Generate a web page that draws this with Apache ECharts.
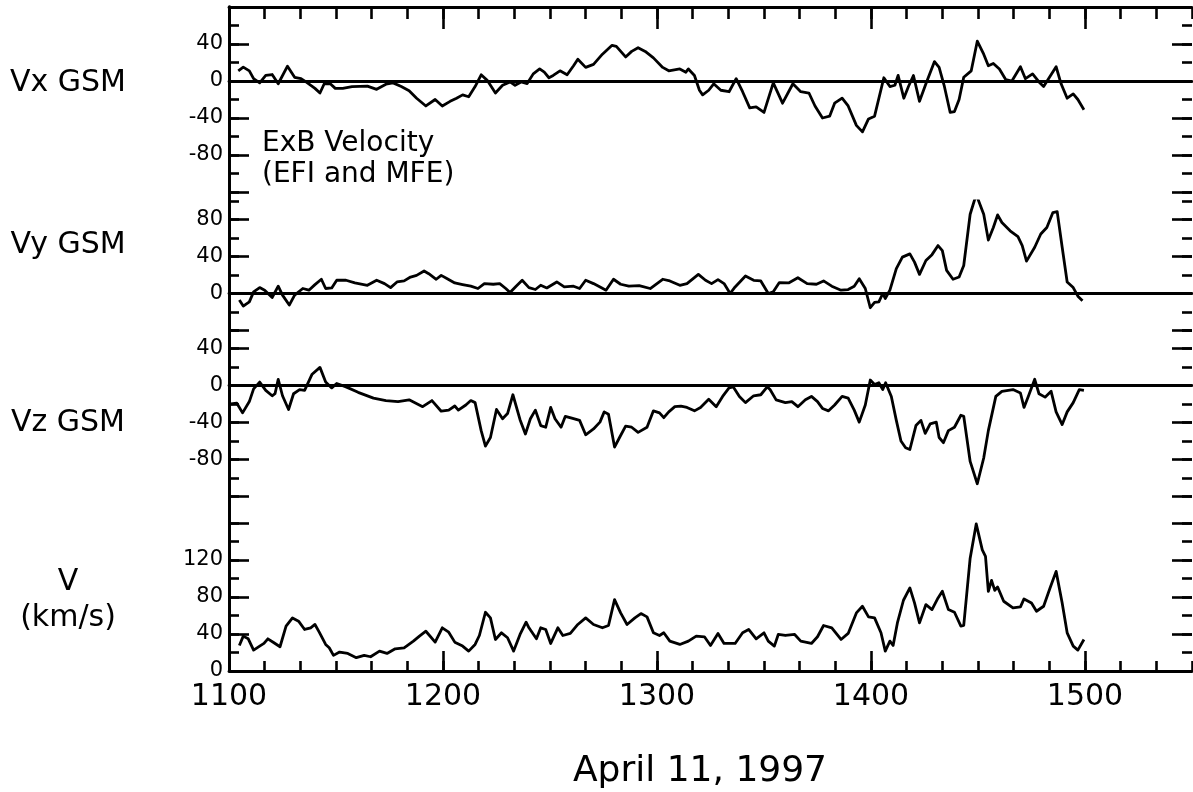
<!DOCTYPE html>
<html>
<head>
<meta charset="utf-8">
<script src="https://cdn.jsdelivr.net/npm/echarts@6/dist/echarts.min.js"></script>
<style>html,body{margin:0;padding:0;background:#fff}#c{width:1193px;height:792px}</style>
</head>
<body>
<div id="c"></div>
<script>
// time in minutes after 11:00 UT, value in km/s
const xTickValues = [0, 60, 120, 180, 240];
const xTickLabels = ['1100', '1200', '1300', '1400', '1500'];

const vxData = [[2.6,11],[4,15],[5.7,11],[6.9,2.5],[8.6,-2],[10.3,6],[12.1,7],[13.8,-3],[16.4,16],[18.4,4],[20.2,2.5],[21.6,-1],[24.1,-8],[25.5,-13],[26.7,-3],[28.4,-3],[29.8,-8],[31.9,-8],[34.5,-6],[38.8,-5.6],[41.4,-9],[44,-3.5],[46,-2],[48.3,-6],[50.5,-10.5],[52.6,-18.6],[55.2,-27],[57.8,-20],[59.8,-27],[62,-22],[63.8,-18.6],[65.5,-15],[67.2,-17],[69,-6],[70.7,6.7],[72.4,0.7],[74.7,-13],[76.7,-4.6],[78.8,-1],[80.2,-4.6],[81.9,-1],[83.6,-2.8],[85.3,7.7],[87.1,13],[88.4,9.5],[89.7,3.5],[90.9,6],[92.8,11],[94.8,6.7],[96.6,16.5],[97.8,23.5],[100,14.7],[102.2,18],[104.7,29],[107.4,38.6],[108.6,37.5],[111.2,26],[112.9,32],[114.7,36],[116.7,32],[119,25],[121.6,14.7],[123.3,11],[126.4,13],[128.1,9.5],[128.8,13],[130.5,6],[131.9,-10],[132.8,-15],[134.5,-10],[135.9,-3],[137.9,-10],[140.2,-11.6],[142.2,2.5],[144,-11.6],[146,-29],[147.8,-28],[150,-34],[152.6,-2],[155.2,-24],[158.1,-3],[160.3,-11.6],[162.6,-13],[164.3,-27],[166.4,-40],[168.4,-38],[169.8,-24],[171.9,-18.6],[173.6,-27],[175.9,-48],[177.6,-55],[179.3,-41],[181,-38],[183.6,3.5],[185.3,-6],[186.7,-4.6],[187.6,6],[189.2,-18.6],[190.5,-6],[191.9,6],[193.6,-22],[195.4,-3],[197.8,21],[199.1,14.7],[200.5,-4.6],[202.2,-34],[203.4,-33],[204.7,-20],[206,4],[208.1,11],[209.8,43],[211.6,29],[212.9,16.5],[214.3,19],[216,13],[217.8,1.4],[219.5,0],[221.9,15.4],[223.3,2.5],[225.3,7.7],[227.1,-1],[228.4,-6],[231.9,15.4],[233.3,-3],[235,-18.6],[236.7,-14],[238,-20],[239.7,-31]];

const vyData = [[2.9,-7],[4,-13.6],[5.7,-9],[6.9,1.8],[8.6,6.4],[10,3.6],[12.1,-4.3],[13.8,7.9],[15,-1.8],[16.9,-12.5],[18.4,-1.8],[20.7,5.4],[22.4,3.6],[24.1,9.6],[25.9,15.4],[27.1,5.4],[28.8,6],[30.2,14.3],[32.8,14.3],[35.3,11.4],[38.8,8.9],[41.4,14.3],[43.6,10.7],[45.3,6.4],[47.1,12.5],[49.1,13.6],[50.9,17.8],[52.6,19.6],[54.7,24.3],[56,21.4],[58.1,15.4],[59.5,19.6],[61.2,16],[63.3,11.4],[65.5,9.6],[67.8,7.9],[69.8,5.4],[71.6,10.7],[74.1,10],[75.9,10.7],[77.6,5.4],[78.8,1],[80.5,7.9],[82.2,14.3],[84.1,6.4],[85.9,4.3],[87.4,8.9],[89.1,6],[91.9,12.5],[94,7.1],[96.6,7.9],[98.3,5.4],[100,14.3],[102.2,10.7],[104.3,6.4],[105.7,3.6],[107.8,15.4],[109.8,10],[112.1,7.9],[115,8.6],[118.1,5.4],[121.6,15.4],[123.6,13.6],[126.4,8.9],[128.4,10.7],[131.6,20.7],[133.6,14.3],[135.3,10.7],[137.1,15],[138.8,10.7],[140.5,0],[141.9,7.1],[144.8,18.9],[147.1,14.3],[149.1,13.6],[151.2,0],[152.6,1.8],[154.3,11.8],[156.9,11.4],[159.5,17],[162.1,10.7],[164.7,10],[166.7,13.6],[169,7.9],[171.6,3.6],[173.6,4.3],[175.3,7.9],[176.7,16],[178.4,5.4],[179.8,-15.4],[181,-9.6],[182.2,-9],[183.3,0],[184,-5.4],[185.3,3.6],[187.1,26.8],[188.8,39.3],[190.9,42.8],[192.2,33.9],[193.6,20.7],[195.4,35.7],[197.1,42],[198.8,51.8],[200,46.4],[201.2,25],[203,15.4],[204.7,17.8],[206,30.3],[207.8,85.7],[209.5,107],[211.6,85.7],[212.9,57.8],[214.3,71.4],[215.5,85],[216.7,76.8],[219,67.8],[221.2,61.4],[222.4,51.8],[223.6,35],[225.9,50],[227.6,64.3],[229.3,71.4],[231,87.5],[232.2,88.5],[233.6,50],[235,12.5],[236.7,6.4],[238,-2.9],[239.3,-7.9]];

const vzData = [[0.5,-20],[2.2,-19.2],[3.8,-29.6],[5.7,-17.4],[6.9,-3.7],[8.6,3.7],[10.3,-5.2],[12.1,-11.1],[12.9,-8.9],[13.8,6.7],[15,-11.1],[16.7,-25.9],[18.1,-8.9],[19.8,-4.4],[21.2,-5.2],[23.3,12.2],[25.5,19.6],[27.1,3.7],[28.8,-2.6],[30.2,2.2],[32.8,-1.5],[36.2,-7.4],[40.5,-13.7],[44,-16.3],[47.4,-17.4],[50.5,-15.5],[54.3,-22.9],[56.9,-16.3],[59.5,-27.8],[61.6,-26.6],[63.3,-22.2],[64.3,-26.6],[66.4,-21.1],[67.8,-16.3],[69,-18.5],[70.7,-48.8],[71.9,-65.5],[73.3,-56.2],[75,-25.9],[76.7,-35.9],[78.1,-30.3],[79.6,-10],[81.6,-37],[83.1,-52.5],[84.5,-35.9],[85.9,-26.6],[87.4,-43.3],[88.8,-45.1],[90.2,-23.7],[91.4,-35.9],[93.1,-45.1],[94.3,-33.3],[96.6,-35.9],[98.3,-37.7],[100,-53.3],[102.2,-47],[104,-39.6],[105.2,-28.5],[106.4,-31.1],[108.1,-66.6],[109.5,-56.2],[111.2,-44],[112.9,-45.1],[114.7,-50.7],[117.2,-45.1],[119,-27.4],[120.7,-29.6],[121.9,-34.8],[123.3,-28.5],[125,-22.9],[126.7,-22.2],[128.4,-23.7],[130.5,-27.4],[132.2,-23.7],[134.5,-14.8],[136.6,-22.9],[138.4,-11.8],[140.2,-2.6],[141.4,-1.5],[143.1,-11.8],[144.8,-18.5],[147.1,-11.1],[149.1,-10],[150.9,-1.5],[151.7,-4.4],[153.4,-15.5],[156,-18.5],[157.8,-17.4],[159.5,-22.9],[161.6,-15.5],[163.3,-11.8],[165,-17.4],[166.4,-24.8],[168.1,-27.4],[169.8,-21.1],[171.9,-11.8],[173.6,-13.7],[175.3,-26.6],[176.7,-39.6],[178.4,-21.1],[179.8,5.9],[181,1.1],[182.2,3],[183.3,-4.4],[184.1,3],[185.7,-11.8],[187.1,-37.7],[188.4,-60],[189.7,-67.3],[190.9,-69.2],[192.6,-43.3],[194,-37.7],[195.2,-51.8],[196.6,-41.4],[198.3,-39.6],[199.1,-56.2],[200.3,-61.8],[201.7,-48.8],[203.4,-45.1],[205.2,-32.2],[206,-33.3],[207.8,-82.1],[209.8,-106.2],[211.6,-78.4],[212.9,-48.8],[215,-11.8],[216.7,-6.3],[219.8,-4.4],[221.9,-8.1],[222.9,-23.7],[224.1,-11.8],[225.9,6.7],[227.1,-8.9],[228.8,-12.6],[230.5,-6.3],[231.9,-28.5],[233.6,-42.2],[235,-28.5],[236.7,-18.5],[238.4,-4.4],[239.7,-5.2]];

const vData = [[2.9,27.6],[4,37.7],[5.4,34.8],[6.9,22.6],[8.6,26.9],[9.8,29.8],[10.9,34.8],[12.6,30.5],[14.3,26.2],[16,48.5],[17.8,57.4],[19.5,53.9],[21.2,44.9],[22.9,46.7],[24.1,50.3],[25.3,42],[27.1,28.7],[28.1,25.1],[29.3,16.9],[31,20.5],[33.3,19],[35.7,14.4],[37.9,16.9],[39.7,15.4],[42.2,21.5],[44.3,19],[46.6,24],[49.1,25.1],[51.7,32.3],[53.4,37.7],[55.2,43],[57.8,31.2],[59.8,46.7],[61.6,42],[63.3,31.2],[65.5,26.9],[67.2,21.5],[69,28.7],[70.2,38.4],[71.9,63.5],[73.3,57.4],[74.7,34.1],[76.4,41.3],[78.1,35.9],[79.8,21.5],[81.6,39.5],[83.3,52.8],[84.1,46.7],[86.2,34.8],[87.4,46.7],[88.8,44.9],[90.2,29.8],[92.2,46.7],[93.6,38.4],[95.7,40.6],[97.8,50.3],[100,57.4],[102.2,50.3],[104.7,46.7],[106.4,49.2],[108.1,77.2],[109.8,62.8],[111.6,50.3],[113.8,57.4],[115.5,62.1],[117.2,58.5],[119,41.3],[120.7,38.4],[121.9,41.3],[123.6,32.3],[126.4,28.7],[128.8,32.3],[131,37.7],[133.3,37],[135,27.6],[137.1,40.6],[138.8,29.8],[141.9,29.8],[144,41.3],[145.7,44.9],[147.8,34.8],[150,41.3],[151.2,32.3],[152.9,26.9],[154,39.5],[156,38.4],[158.6,39.5],[160.3,32.3],[163.3,29.8],[165,37],[166.7,49.2],[169,46.7],[171.6,34.1],[173.6,40.6],[175.9,62.8],[177.6,70],[179.3,58.5],[181,57.4],[182.8,41.3],[184,21.5],[185.3,32.3],[186.2,27.6],[187.4,52],[189.1,76.5],[190.9,89.8],[192.2,73.6],[193.6,52],[195.4,71.8],[197.1,66.4],[198.8,79],[200,86.2],[201.7,66.4],[203.4,63.5],[205.2,48.5],[206,49.2],[207.8,122],[209.5,159],[211.2,131],[212.1,123.9],[212.9,86.2],[213.8,98],[214.7,87.2],[215.5,90.8],[217.2,75.4],[219.8,68.2],[221.9,69.3],[222.9,77.9],[225,73.6],[226.4,64.6],[228.4,70],[230.2,89.8],[231.9,107.7],[233.6,73.6],[235,41.3],[236.7,26.9],[238,22.6],[239.7,34.1]];

// y-axis ranges, major ticks and labelled ticks for each panel
const panelMin = [-120, -40, -120, 0];
const panelMax = [80, 100, 60, 160];
const panelMajor = [[-120, -80, -40, 0, 40, 80], [-40, 0, 40, 80], [-120, -80, -40, 0, 40], [0, 40, 80, 120, 160]];
const panelLabels = [[-80, -40, 0, 40], [0, 40, 80], [-80, -40, 0, 40], [0, 40, 80, 120]];
const panelNames = ['Vx GSM', 'Vy GSM', 'Vz GSM', 'V\n(km/s)'];
const panelSeries = [vxData, vyData, vzData, vData];

const FONT = 'DejaVu Sans';
const LW = 2.8;
const TW = 2.6;
const grids = [
  {left: 229, right: 1, top: 7, bottom: 121},          // frame
  {left: 229, right: 1, top: 7, height: 185},          // Vx
  {left: 229, right: 1, top: 201, height: 129.5},      // Vy
  {left: 229, right: 1, top: 330, height: 166.5},      // Vz
  {left: 229, right: 1, top: 523, height: 148}         // V
];

const xAxes = [
  {gridIndex: 0, type: 'value', min: 0, max: 270, position: 'bottom',
   axisLine: {show: true, lineStyle: {color: '#000', width: LW}},
   axisTick: {show: true, inside: true, length: 20, customValues: xTickValues, lineStyle: {color: '#000', width: TW}},
   axisLabel: {show: true, customValues: xTickValues, formatter: v => xTickLabels[Math.round(v / 60)], color: '#000', fontFamily: FONT, fontSize: 30, margin: 11},
   splitLine: {show: false}},
  {gridIndex: 0, type: 'value', min: 0, max: 270, interval: 10, position: 'bottom',
   axisLine: {show: false}, axisTick: {show: true, inside: true, length: 10, lineStyle: {color: '#000', width: TW}},
   axisLabel: {show: false}, splitLine: {show: false}},
  {gridIndex: 0, type: 'value', min: 0, max: 270, position: 'top',
   axisLine: {show: true, lineStyle: {color: '#000', width: LW}},
   axisTick: {show: true, inside: true, length: 22, customValues: xTickValues, lineStyle: {color: '#000', width: TW}},
   axisLabel: {show: false}, splitLine: {show: false}},
  {gridIndex: 0, type: 'value', min: 0, max: 270, interval: 10, position: 'top',
   axisLine: {show: false}, axisTick: {show: true, inside: true, length: 12, lineStyle: {color: '#000', width: TW}},
   axisLabel: {show: false}, splitLine: {show: false}}
];
const yAxes = [
  {gridIndex: 0, type: 'value', min: 0, max: 1, position: 'left',
   axisLine: {show: true, lineStyle: {color: '#000', width: LW}}, axisTick: {show: false}, axisLabel: {show: false}, splitLine: {show: false}},
  {gridIndex: 0, type: 'value', min: 0, max: 1, position: 'right',
   axisLine: {show: true, lineStyle: {color: '#000', width: LW}}, axisTick: {show: false}, axisLabel: {show: false}, splitLine: {show: false}}
];
const series = [];
for (let p = 0; p < 4; p++) {
  const g = p + 1;
  xAxes.push({gridIndex: g, type: 'value', min: 0, max: 270, position: 'bottom',
    axisLine: {show: p < 3, onZero: true, lineStyle: {color: '#000', width: LW}},
    axisTick: {show: false}, axisLabel: {show: false}, splitLine: {show: false}});
  const base = yAxes.length;
  ['left', 'right'].forEach(pos => {
    yAxes.push({gridIndex: g, type: 'value', min: panelMin[p], max: panelMax[p], position: pos,
      axisLine: {show: false},
      axisTick: {show: true, inside: true, length: 20, customValues: panelMajor[p], lineStyle: {color: '#000', width: TW}},
      axisLabel: pos === 'left' ? {show: true, customValues: panelLabels[p], color: '#000', fontFamily: FONT, fontSize: 21, margin: 6} : {show: false},
      splitLine: {show: false}});
    yAxes.push({gridIndex: g, type: 'value', min: panelMin[p], max: panelMax[p], interval: 20, position: pos,
      axisLine: {show: false},
      axisTick: {show: true, inside: true, length: 10, lineStyle: {color: '#000', width: TW}},
      axisLabel: {show: false}, splitLine: {show: false}});
  });
  series.push({type: 'line', xAxisIndex: 4 + p, yAxisIndex: base, data: panelSeries[p],
    showSymbol: false, symbol: 'none', smooth: false,
    lineStyle: {color: '#000', width: 2.8, join: 'round'}, z: 5});
}

const panelLabelY = [83, 245, 423, 600];
const graphics = panelNames.map((t, i) => ({
  type: 'text', x: 68, y: panelLabelY[i],
  style: {text: t, fill: '#000', font: '30px "' + FONT + '"', textAlign: 'center', textVerticalAlign: 'middle', lineHeight: 36}
}));
graphics.push({type: 'text', x: 262, y: 128,
  style: {text: 'ExB Velocity\n(EFI and MFE)', fill: '#000', font: '28px "' + FONT + '"', textAlign: 'left', textVerticalAlign: 'top', lineHeight: 31}});
graphics.push({type: 'text', x: 700, y: 772,
  style: {text: 'April 11, 1997', fill: '#000', font: '36px "' + FONT + '"', textAlign: 'center', textVerticalAlign: 'middle'}});

const chart = echarts.init(document.getElementById('c'), null, {renderer: 'canvas'});
chart.setOption({
  animation: false,
  backgroundColor: '#fff',
  grid: grids,
  xAxis: xAxes,
  yAxis: yAxes,
  series: series,
  graphic: graphics
});
</script>
</body>
</html>
